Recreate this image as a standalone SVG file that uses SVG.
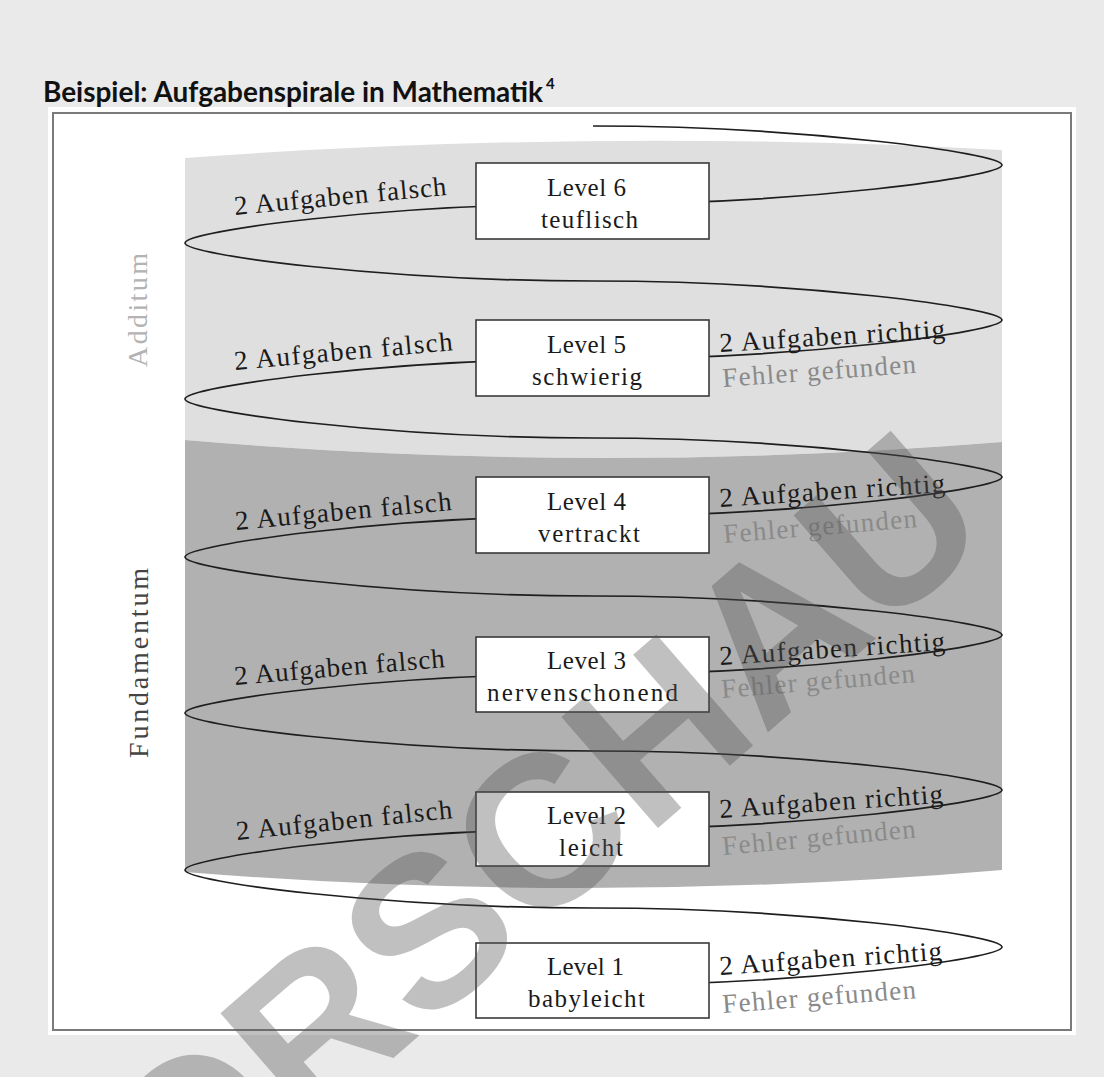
<svg xmlns="http://www.w3.org/2000/svg" width="1104" height="1077" viewBox="0 0 1104 1077">
<style>
.title{font-family:Lato,"Open Sans","Liberation Sans",sans-serif;font-weight:bold;font-size:28px;fill:#111}
.sup{font-family:Lato,"Open Sans","Liberation Sans",sans-serif;font-weight:bold;font-size:15px;fill:#111}
.box{fill:#fff;stroke:#3a3a3a;stroke-width:1.6}
.bt{font-family:"Liberation Serif","Times New Roman",serif;font-size:25px;fill:#1a1a1a}
.lab{font-family:"Liberation Serif","Times New Roman",serif;font-size:27px;fill:#1a1a1a}
.fg{font-family:"Liberation Serif","Times New Roman",serif;font-size:27px;fill:#8a8a8a}
.side{font-family:"Liberation Serif","Times New Roman",serif;font-size:28px}
.spiral{fill:none;stroke:#1e1e1e;stroke-width:1.7}
.wm{font-family:"Liberation Sans",Arial,sans-serif;font-weight:bold;font-size:214px;fill:#555;fill-opacity:0.37}
</style>
<rect x="0" y="0" width="1104" height="1077" fill="#e9eae9"/>
<text class="title" x="43" y="102" textLength="500" lengthAdjust="spacingAndGlyphs">Beispiel: Aufgabenspirale in Mathematik</text>
<text class="sup" x="546" y="89">4</text>
<rect x="48" y="107" width="1028" height="928" fill="#fff"/>
<rect x="53" y="113" width="1018" height="917" fill="none" stroke="#7a7a7a" stroke-width="2"/>
<g id="cylinder">
<path d="M185,158 Q593,128 1002,150 L1002,442 Q593,475 185,440 Z" fill="#dfdfdf"/>
<path d="M185,440 Q593,475 1002,442 L1002,870 Q593,905 185,872 Z" fill="#b1b1b1"/>
</g>
<g id="side-labels">
<text class="side" fill="#b3b3b3" transform="translate(147,310) rotate(-90)" text-anchor="middle" textLength="114">Additum</text>
<text class="side" fill="#444" transform="translate(148,663) rotate(-90)" text-anchor="middle" textLength="190">Fundamentum</text>
</g>
<g id="connectors">
<path class="spiral" d="M593,126 C800,126 1002,153 1002,165 C1002,177 800,204 593,204 C386,204 185,231 185,243 C185,255 386,281 593,281 C800,281 1002,308 1002,320 C1002,332 800,359 593,359 C386,359 185,387 185,399 C185,411 386,438 593,438 C800,438 1002,465 1002,477 C1002,489 800,516 593,516 C386,516 185,545 185,557 C185,569 386,596 593,596 C800,596 1002,623 1002,635 C1002,647 800,674 593,674 C386,674 185,701 185,713 C185,725 386,751 593,751 C800,751 1002,778 1002,790 C1002,802 800,829 593,829 C386,829 185,858 185,870 C185,882 386,908 593,908 C800,908 1002,935 1002,947 C1002,959 800,985 593,985"/>
<g id="labels-falsch">
<text class="lab" x="235" y="215" transform="rotate(-5.4 235 215)" textLength="213">2 Aufgaben falsch</text>
<text class="lab" x="235" y="370" transform="rotate(-5.2 235 370)" textLength="219">2 Aufgaben falsch</text>
<text class="lab" x="236" y="530" transform="rotate(-5.3 236 530)" textLength="217">2 Aufgaben falsch</text>
<text class="lab" x="235" y="685" transform="rotate(-4.9 235 685)" textLength="211">2 Aufgaben falsch</text>
<text class="lab" x="237" y="840" transform="rotate(-5.8 237 840)" textLength="217">2 Aufgaben falsch</text>
</g>
<g id="labels-richtig">
<text class="lab" x="720" y="352" transform="rotate(-3.6 720 352)" textLength="226">2 Aufgaben richtig</text>
<text class="lab" x="720" y="507" transform="rotate(-3.8 720 507)" textLength="226">2 Aufgaben richtig</text>
<text class="lab" x="720" y="665" transform="rotate(-3.8 720 665)" textLength="226">2 Aufgaben richtig</text>
<text class="lab" x="720" y="818" transform="rotate(-3.9 720 818)" textLength="224">2 Aufgaben richtig</text>
<text class="lab" x="720" y="975" transform="rotate(-3.9 720 975)" textLength="223">2 Aufgaben richtig</text>
</g>
<g id="labels-fehler">
<text class="fg" x="723" y="387" transform="rotate(-4.2 723 387)" textLength="194">Fehler gefunden</text>
<text class="fg" x="724" y="543" transform="rotate(-4.7 724 543)" textLength="194">Fehler gefunden</text>
<text class="fg" x="722" y="698" transform="rotate(-4.7 722 698)" textLength="194">Fehler gefunden</text>
<text class="fg" x="723" y="855" transform="rotate(-5.2 723 855)" textLength="194">Fehler gefunden</text>
<text class="fg" x="723" y="1013" transform="rotate(-4.4 723 1013)" textLength="194">Fehler gefunden</text>
</g>
</g>
<g id="level6">
<rect class="box" x="476" y="163" width="233" height="76"/>
<text class="bt" x="547" y="196" textLength="79">Level 6</text>
<text class="bt" x="541" y="228" textLength="97">teuflisch</text>
</g>
<g id="level5">
<rect class="box" x="476" y="320" width="233" height="76"/>
<text class="bt" x="547" y="353" textLength="79">Level 5</text>
<text class="bt" x="532" y="385" textLength="110">schwierig</text>
</g>
<g id="level4">
<rect class="box" x="476" y="477" width="233" height="76"/>
<text class="bt" x="547" y="510" textLength="79">Level 4</text>
<text class="bt" x="538" y="542" textLength="102">vertrackt</text>
</g>
<g id="level3">
<rect class="box" x="476" y="637" width="233" height="75"/>
<text class="bt" x="547" y="669" textLength="79">Level 3</text>
<text class="bt" x="487" y="701" textLength="191">nervenschonend</text>
</g>
<g id="level2">
<rect class="box" x="476" y="792" width="233" height="74"/>
<text class="bt" x="547" y="824" textLength="79">Level 2</text>
<text class="bt" x="559" y="856" textLength="64">leicht</text>
</g>
<g id="level1">
<rect class="box" x="476" y="943" width="233" height="75"/>
<text class="bt" x="547" y="975" textLength="77">Level 1</text>
<text class="bt" x="528" y="1007" textLength="117">babyleicht</text>
</g>
<text class="wm" transform="translate(535,935) rotate(-41)" text-anchor="middle">VORSCHAU</text>
</svg>
